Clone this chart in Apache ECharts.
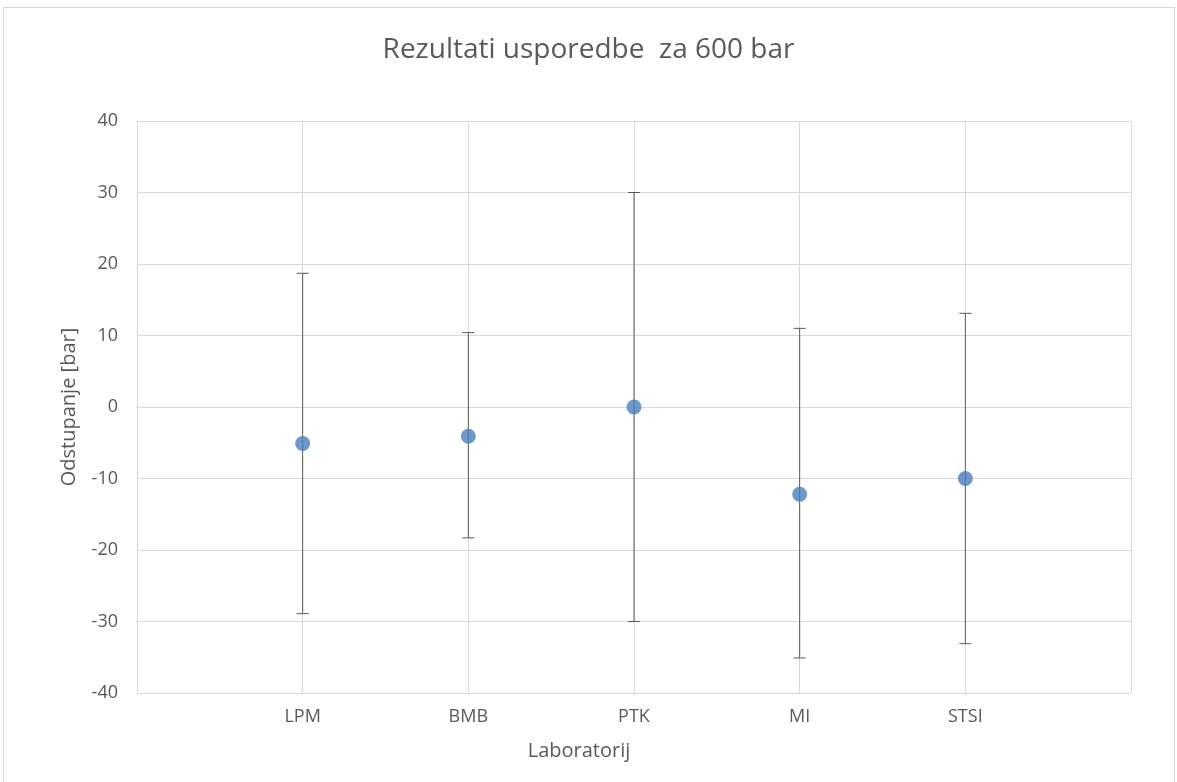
<!DOCTYPE html>
<html><head><meta charset="utf-8">
<script src="https://cdn.jsdelivr.net/npm/echarts@6/dist/echarts.min.js"></script>
<style>
html,body{margin:0;padding:0;background:#fff;}
#frame{position:absolute;left:3px;top:7px;width:1172px;height:780px;border:1px solid #d9d9d9;box-sizing:border-box;}
#chart{position:absolute;left:0;top:0;width:1177px;height:782px;}
</style></head>
<body>
<div id="frame"></div>
<div id="chart"></div>
<script>
const categories = ['LPM', 'BMB', 'PTK', 'MI', 'STSI'];
const values = [-5.1, -4.1, 0, -12.2, -10];
const upper = [18.7, 10.4, 30, 11.0, 13.1];
const lower = [-28.9, -18.3, -30, -35.1, -33.1];
const yTicks = [-40, -30, -20, -10, 0, 10, 20, 30, 40];

const pointData = values.map((v, i) => [i + 1, v]);
const errData = values.map((v, i) => [i + 1, lower[i], upper[i]]);

const chart = echarts.init(document.getElementById('chart'));
const font = "'Open Sans', 'Noto Sans', sans-serif";
chart.setOption({
  animation: false,
  title: {
    text: 'Rezultati usporedbe  za 600 bar',
    left: 'center', top: 31,
    textStyle: {fontFamily: font, fontSize: 28, fontWeight: 'normal', color: '#595959'}
  },
  grid: {left: 137, right: 46, top: 121, bottom: 89},
  xAxis: {
    type: 'value', min: 0, max: 6, interval: 1,
    name: 'Laboratorij', nameLocation: 'middle', nameGap: 48,
    nameTextStyle: {fontFamily: font, fontSize: 20, color: '#595959', padding: [0, 110, 0, 0]},
    axisLine: {show: true, lineStyle: {color: '#d9d9d9'}},
    axisTick: {show: false},
    axisLabel: {
      margin: 15, fontFamily: font, fontSize: 18, color: '#595959',
      formatter: v => categories[v - 1] || ''
    },
    splitLine: {show: true, lineStyle: {color: '#d9d9d9'}}
  },
  yAxis: {
    type: 'value', min: -40, max: 40, interval: 10,
    name: 'Odstupanje [bar]', nameLocation: 'middle', nameGap: 58,
    nameTextStyle: {fontFamily: font, fontSize: 20, color: '#595959'},
    axisLine: {show: false}, axisTick: {show: false},
    axisLabel: {margin: 19, fontFamily: font, fontSize: 18, color: '#595959',
      formatter: v => yTicks.includes(v) ? String(v) : ''},
    splitLine: {show: true, lineStyle: {color: '#d9d9d9'}}
  },
  series: [
    {
      type: 'custom',
      data: errData,
      renderItem: function (params, api) {
        const x = api.value(0);
        const lo = api.coord([x, api.value(1)]);
        const hi = api.coord([x, api.value(2)]);
        const hw = 6;
        const style = {stroke: '#595959', lineWidth: 1};
        return {
          type: 'group',
          children: [
            {type: 'line', shape: {x1: lo[0], y1: lo[1], x2: hi[0], y2: hi[1]}, style: style},
            {type: 'line', shape: {x1: lo[0] - hw, y1: lo[1], x2: lo[0] + hw, y2: lo[1]}, style: style},
            {type: 'line', shape: {x1: hi[0] - hw, y1: hi[1], x2: hi[0] + hw, y2: hi[1]}, style: style}
          ]
        };
      },
      z: 2
    },
    {
      type: 'scatter',
      data: pointData,
      symbolSize: 15,
      itemStyle: {color: '#4a7ebb'},
      z: 3
    }
  ]
});
</script>
</body></html>
